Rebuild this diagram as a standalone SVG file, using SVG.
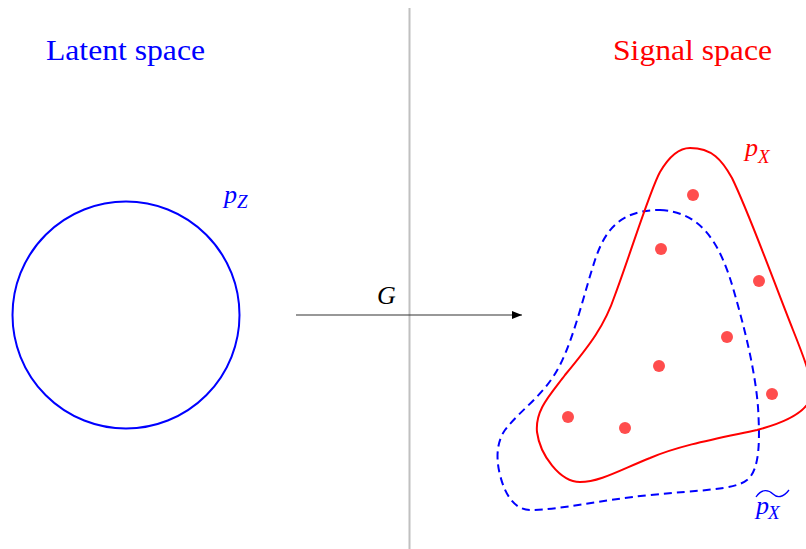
<svg xmlns="http://www.w3.org/2000/svg" width="806" height="549" viewBox="0 0 806 549">
<style>
.title{font-family:"Liberation Serif","DejaVu Serif",serif;font-size:30px}
.math{font-family:"Liberation Serif","DejaVu Serif",serif;font-style:italic}
.blue{fill:#0000ff}
.red{fill:#ff0000}
.dot{fill:#ff4d4d}
</style>
<defs>
<marker id="arr" viewBox="0 0 10 10" refX="10" refY="5" markerWidth="10" markerHeight="10" markerUnits="userSpaceOnUse" orient="auto">
<path d="M0,1 L10,5 L0,9 Z" fill="#000"/>
</marker>
</defs>
<rect width="806" height="549" fill="#fff"/>
<g id="divider">
<line x1="409.5" y1="8" x2="409.5" y2="549" stroke="#c0c0c0" stroke-width="2"/>
</g>
<g id="latent-title"><text class="title blue" x="46" y="60" textLength="159" lengthAdjust="spacingAndGlyphs">Latent space</text></g>
<g id="signal-title"><text class="title red" x="613" y="60" textLength="159" lengthAdjust="spacingAndGlyphs">Signal space</text></g>
<g id="pZ">
<circle cx="126" cy="315" r="113.5" fill="none" stroke="#0000ff" stroke-width="2"/>
<text class="math blue" x="224" y="203" font-size="26">p</text>
<text class="math blue" x="237" y="208" font-size="19">Z</text>
</g>
<g id="pX-tilde">
<path d="M660,210 C700,212 720,240 735,295 C745,330 755,370 758,407 C760,440 760,470 747,480 C735,490 700,490 650,495 C600,500 560,510 530,510 C515,510 505,495 500,475 C495,455 498,440 505,430 C520,410 545,395 560,365 C575,335 585,290 595,260 C605,230 620,210 660,210 Z" fill="none" stroke="#0000ff" stroke-width="2" stroke-dasharray="8,5"/>
<text class="math blue" x="756" y="514" font-size="26">p</text>
<text class="math blue" x="768" y="519" font-size="19">X</text>
<path d="M756,497 C762,488 769,490 773,494 C777,498 783,498 789,490" fill="none" stroke="#0000ff" stroke-width="1.3"/>
</g>
<g id="pX">
<path d="M690,148 C712,148 722,160 732,178 C750,215 775,285 793,330 C805,360 815,385 810,400 C803,415 780,424 757,430 C720,438 680,445 650,458 C620,470 600,482 580,482 C560,482 540,455 537,432 C535,410 550,395 565,375 C590,345 605,325 615,295 C630,255 650,190 660,172 C670,155 680,148 690,148 Z" fill="none" stroke="#ff0000" stroke-width="2"/>
<text class="math red" x="745" y="156" font-size="26">p</text>
<text class="math red" x="758" y="163" font-size="19">X</text>
</g>
<g id="samples">
<circle class="dot" cx="693" cy="195" r="6"/>
<circle class="dot" cx="661" cy="249" r="6"/>
<circle class="dot" cx="759" cy="281" r="6"/>
<circle class="dot" cx="727" cy="337" r="6"/>
<circle class="dot" cx="659" cy="366" r="6"/>
<circle class="dot" cx="772" cy="394" r="6"/>
<circle class="dot" cx="568" cy="417" r="6"/>
<circle class="dot" cx="625" cy="428" r="6"/>
</g>
<g id="connectors">
<line x1="296" y1="315" x2="522" y2="315" stroke="#333" stroke-width="1.2" marker-end="url(#arr)"/>
<text class="math" x="377" y="304" font-size="26" fill="#000">G</text>
</g>
</svg>
